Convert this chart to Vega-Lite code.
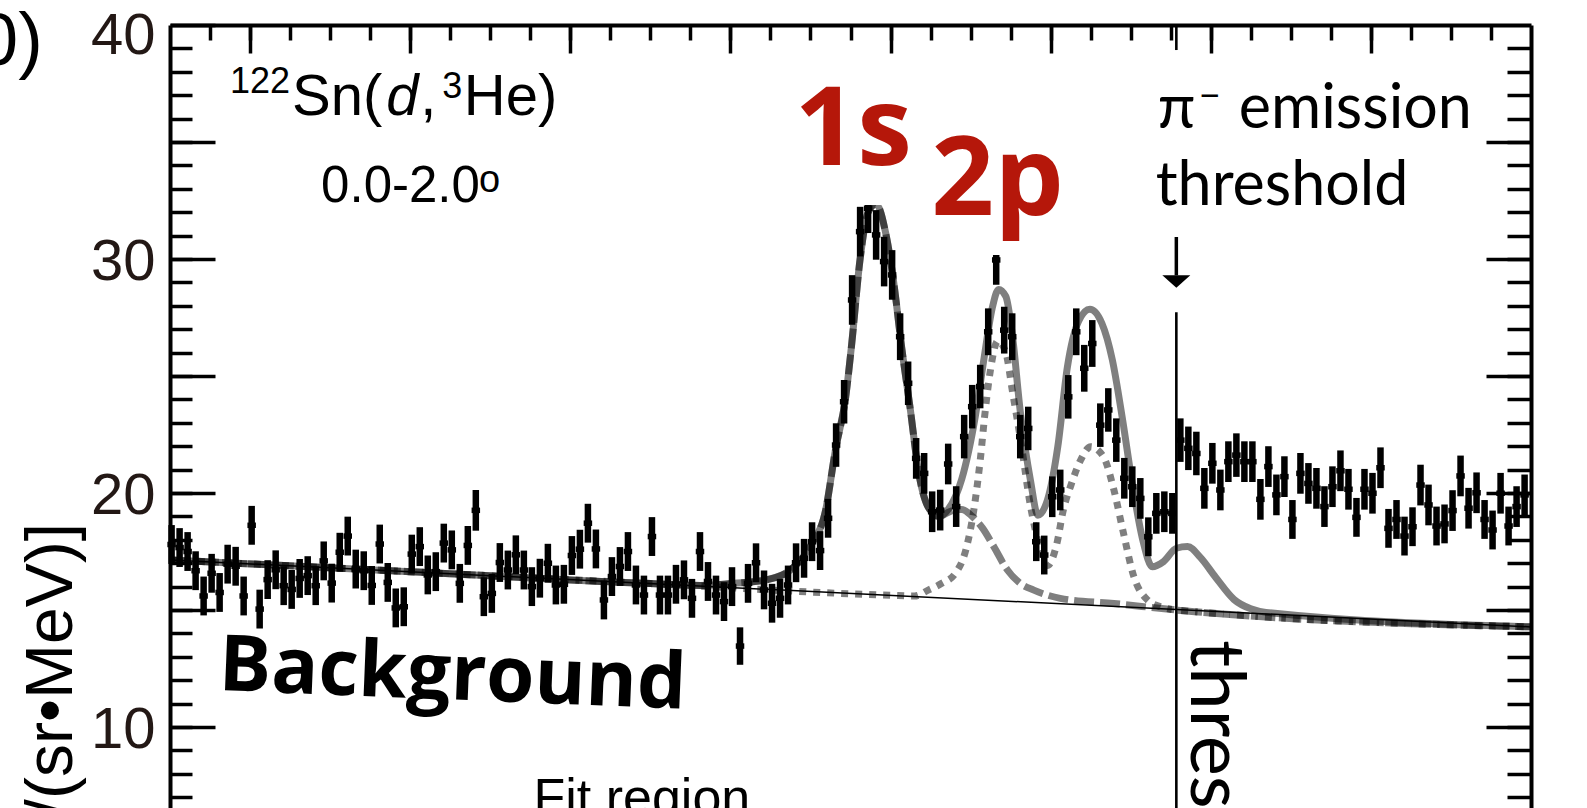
{
"$schema": "https://vega.github.io/schema/vega-lite/v6.json",
"width": 1361, "height": 783,
"autosize": {"type": "none"},
"padding": {"left": 170, "top": 25, "right": 56, "bottom": 0},
"background": "white",
"config": {"view": {"stroke": null}},
"datasets": {
"pts": [
{"x":-12.98,"y":17.8,"lo":16.97,"hi":18.63},{"x":-12.88,"y":17.67,"lo":16.84,"hi":18.5},{"x":-12.78,"y":17.5,"lo":16.67,"hi":18.33},{"x":-12.68,"y":16.68,"lo":15.85,"hi":17.51},{"x":-12.58,"y":15.6,"lo":14.77,"hi":16.43},{"x":-12.48,"y":16.57,"lo":15.74,"hi":17.4},{"x":-12.38,"y":15.75,"lo":14.92,"hi":16.58},{"x":-12.28,"y":16.96,"lo":16.13,"hi":17.79},{"x":-12.18,"y":16.87,"lo":16.04,"hi":17.7},{"x":-12.08,"y":15.6,"lo":14.77,"hi":16.43},
{"x":-11.98,"y":18.62,"lo":17.79,"hi":19.45},{"x":-11.88,"y":15.04,"lo":14.21,"hi":15.87},{"x":-11.78,"y":16.3,"lo":15.47,"hi":17.13},{"x":-11.68,"y":16.72,"lo":15.89,"hi":17.55},{"x":-11.58,"y":16.04,"lo":15.21,"hi":16.87},{"x":-11.48,"y":15.88,"lo":15.05,"hi":16.71},{"x":-11.38,"y":16.35,"lo":15.52,"hi":17.18},{"x":-11.28,"y":16.47,"lo":15.64,"hi":17.3},{"x":-11.18,"y":16.04,"lo":15.21,"hi":16.87},{"x":-11.08,"y":17.1,"lo":16.27,"hi":17.93},
{"x":-10.98,"y":16.15,"lo":15.32,"hi":16.98},{"x":-10.88,"y":17.47,"lo":16.64,"hi":18.3},{"x":-10.78,"y":18.16,"lo":17.33,"hi":18.99},{"x":-10.68,"y":16.75,"lo":15.92,"hi":17.58},{"x":-10.58,"y":16.68,"lo":15.85,"hi":17.51},{"x":-10.48,"y":16.05,"lo":15.22,"hi":16.88},{"x":-10.38,"y":17.82,"lo":16.99,"hi":18.65},{"x":-10.28,"y":16.18,"lo":15.35,"hi":17.01},{"x":-10.18,"y":15.09,"lo":14.26,"hi":15.92},{"x":-10.08,"y":15.14,"lo":14.31,"hi":15.97},
{"x":-9.98,"y":17.39,"lo":16.56,"hi":18.22},{"x":-9.88,"y":17.71,"lo":16.88,"hi":18.54},{"x":-9.78,"y":16.5,"lo":15.67,"hi":17.33},{"x":-9.68,"y":16.64,"lo":15.81,"hi":17.47},{"x":-9.58,"y":17.86,"lo":17.03,"hi":18.69},{"x":-9.48,"y":17.57,"lo":16.74,"hi":18.4},{"x":-9.38,"y":16.14,"lo":15.31,"hi":16.97},{"x":-9.28,"y":17.76,"lo":16.93,"hi":18.59},{"x":-9.18,"y":19.26,"lo":18.39,"hi":20.13},{"x":-9.08,"y":15.57,"lo":14.74,"hi":16.4},
{"x":-8.98,"y":15.71,"lo":14.88,"hi":16.54},{"x":-8.88,"y":17.03,"lo":16.2,"hi":17.86},{"x":-8.78,"y":16.71,"lo":15.88,"hi":17.54},{"x":-8.68,"y":17.36,"lo":16.53,"hi":18.19},{"x":-8.58,"y":16.71,"lo":15.88,"hi":17.54},{"x":-8.48,"y":16.0,"lo":15.17,"hi":16.83},{"x":-8.38,"y":16.36,"lo":15.53,"hi":17.19},{"x":-8.28,"y":17.0,"lo":16.17,"hi":17.83},{"x":-8.18,"y":16.07,"lo":15.24,"hi":16.9},{"x":-8.08,"y":16.1,"lo":15.27,"hi":16.93},
{"x":-7.98,"y":17.33,"lo":16.5,"hi":18.16},{"x":-7.88,"y":17.6,"lo":16.77,"hi":18.43},{"x":-7.78,"y":18.71,"lo":17.88,"hi":19.54},{"x":-7.68,"y":17.61,"lo":16.78,"hi":18.44},{"x":-7.58,"y":15.43,"lo":14.6,"hi":16.26},{"x":-7.48,"y":16.43,"lo":15.6,"hi":17.26},{"x":-7.38,"y":16.86,"lo":16.03,"hi":17.69},{"x":-7.28,"y":17.5,"lo":16.67,"hi":18.33},{"x":-7.18,"y":16.07,"lo":15.24,"hi":16.9},{"x":-7.08,"y":15.64,"lo":14.81,"hi":16.47},
{"x":-6.98,"y":18.14,"lo":17.31,"hi":18.97},{"x":-6.88,"y":15.64,"lo":14.81,"hi":16.47},{"x":-6.78,"y":15.64,"lo":14.81,"hi":16.47},{"x":-6.68,"y":16.1,"lo":15.27,"hi":16.93},{"x":-6.58,"y":16.29,"lo":15.46,"hi":17.12},{"x":-6.48,"y":15.5,"lo":14.67,"hi":16.33},{"x":-6.38,"y":17.5,"lo":16.67,"hi":18.33},{"x":-6.28,"y":16.22,"lo":15.39,"hi":17.05},{"x":-6.18,"y":15.64,"lo":14.81,"hi":16.47},{"x":-6.08,"y":15.36,"lo":14.53,"hi":16.19},
{"x":-5.98,"y":16.0,"lo":15.17,"hi":16.83},{"x":-5.88,"y":13.46,"lo":12.66,"hi":14.26},{"x":-5.78,"y":16.14,"lo":15.31,"hi":16.97},{"x":-5.68,"y":17.02,"lo":16.19,"hi":17.85},{"x":-5.58,"y":15.86,"lo":15.03,"hi":16.69},{"x":-5.48,"y":15.29,"lo":14.46,"hi":16.12},{"x":-5.38,"y":15.5,"lo":14.67,"hi":16.33},{"x":-5.28,"y":16.07,"lo":15.24,"hi":16.9},{"x":-5.18,"y":17.02,"lo":16.19,"hi":17.85},{"x":-5.08,"y":17.21,"lo":16.38,"hi":18.04},
{"x":-4.98,"y":17.92,"lo":17.09,"hi":18.75},{"x":-4.88,"y":17.54,"lo":16.71,"hi":18.37},{"x":-4.78,"y":18.92,"lo":18.09,"hi":19.75},{"x":-4.68,"y":22.05,"lo":21.12,"hi":22.98},{"x":-4.58,"y":23.9,"lo":22.97,"hi":24.83},{"x":-4.48,"y":28.25,"lo":27.19,"hi":29.31},{"x":-4.38,"y":31.17,"lo":30.11,"hi":32.23},{"x":-4.28,"y":32.17,"lo":31.11,"hi":33.23},{"x":-4.18,"y":31.03,"lo":29.97,"hi":32.09},{"x":-4.08,"y":29.89,"lo":28.83,"hi":30.95},
{"x":-3.98,"y":29.32,"lo":28.26,"hi":30.38},{"x":-3.88,"y":26.68,"lo":25.68,"hi":27.68},{"x":-3.78,"y":24.69,"lo":23.76,"hi":25.62},{"x":-3.68,"y":21.48,"lo":20.61,"hi":22.35},{"x":-3.58,"y":20.84,"lo":19.97,"hi":21.71},{"x":-3.48,"y":19.2,"lo":18.33,"hi":20.07},{"x":-3.38,"y":19.27,"lo":18.4,"hi":20.14},{"x":-3.28,"y":21.24,"lo":20.37,"hi":22.11},{"x":-3.18,"y":19.42,"lo":18.55,"hi":20.29},{"x":-3.08,"y":22.41,"lo":21.48,"hi":23.34},
{"x":-2.98,"y":23.69,"lo":22.76,"hi":24.62},{"x":-2.88,"y":24.55,"lo":23.62,"hi":25.48},{"x":-2.78,"y":26.89,"lo":25.89,"hi":27.89},{"x":-2.68,"y":29.96,"lo":28.9,"hi":31.02},{"x":-2.58,"y":26.96,"lo":25.96,"hi":27.96},{"x":-2.48,"y":26.68,"lo":25.68,"hi":27.68},{"x":-2.38,"y":22.41,"lo":21.48,"hi":23.34},{"x":-2.28,"y":22.76,"lo":21.83,"hi":23.69},{"x":-2.18,"y":17.92,"lo":17.09,"hi":18.75},{"x":-2.08,"y":17.35,"lo":16.52,"hi":18.18},
{"x":-1.98,"y":19.84,"lo":18.97,"hi":20.71},{"x":-1.88,"y":20.13,"lo":19.26,"hi":21.0},{"x":-1.78,"y":24.11,"lo":23.18,"hi":25.04},{"x":-1.68,"y":26.89,"lo":25.89,"hi":27.89},{"x":-1.58,"y":25.33,"lo":24.33,"hi":26.33},{"x":-1.48,"y":26.39,"lo":25.39,"hi":27.39},{"x":-1.38,"y":22.9,"lo":21.97,"hi":23.83},{"x":-1.28,"y":23.55,"lo":22.62,"hi":24.48},{"x":-1.18,"y":22.26,"lo":21.33,"hi":23.19},{"x":-1.08,"y":20.63,"lo":19.76,"hi":21.5},
{"x":-0.98,"y":20.27,"lo":19.4,"hi":21.14},{"x":-0.88,"y":19.77,"lo":18.9,"hi":20.64},{"x":-0.78,"y":18.13,"lo":17.3,"hi":18.96},{"x":-0.68,"y":19.13,"lo":18.26,"hi":20.0},{"x":-0.58,"y":19.2,"lo":18.33,"hi":20.07},{"x":-0.48,"y":19.13,"lo":18.26,"hi":20.0},{"x":-0.38,"y":22.26,"lo":21.33,"hi":23.19},{"x":-0.28,"y":21.91,"lo":20.98,"hi":22.84},{"x":-0.18,"y":21.69,"lo":20.76,"hi":22.62},{"x":-0.08,"y":20.2,"lo":19.33,"hi":21.07},
{"x":0.02,"y":21.27,"lo":20.4,"hi":22.14},{"x":0.12,"y":20.13,"lo":19.26,"hi":21.0},{"x":0.22,"y":21.34,"lo":20.47,"hi":22.21},{"x":0.32,"y":21.62,"lo":20.69,"hi":22.55},{"x":0.42,"y":21.34,"lo":20.47,"hi":22.21},{"x":0.52,"y":21.34,"lo":20.47,"hi":22.21},{"x":0.62,"y":19.73,"lo":18.86,"hi":20.6},{"x":0.72,"y":21.13,"lo":20.26,"hi":22.0},{"x":0.82,"y":19.92,"lo":19.05,"hi":20.79},{"x":0.92,"y":20.7,"lo":19.83,"hi":21.57},
{"x":1.02,"y":18.87,"lo":18.04,"hi":19.7},{"x":1.12,"y":20.84,"lo":19.97,"hi":21.71},{"x":1.22,"y":20.41,"lo":19.54,"hi":21.28},{"x":1.32,"y":20.2,"lo":19.33,"hi":21.07},{"x":1.42,"y":19.42,"lo":18.55,"hi":20.29},{"x":1.52,"y":20.27,"lo":19.4,"hi":21.14},{"x":1.62,"y":20.95,"lo":20.08,"hi":21.82},{"x":1.72,"y":20.16,"lo":19.29,"hi":21.03},{"x":1.82,"y":18.96,"lo":18.13,"hi":19.79},{"x":1.92,"y":20.16,"lo":19.29,"hi":21.03},
{"x":2.02,"y":19.99,"lo":19.12,"hi":20.86},{"x":2.12,"y":21.08,"lo":20.21,"hi":21.95},{"x":2.22,"y":18.49,"lo":17.66,"hi":19.32},{"x":2.32,"y":18.87,"lo":18.04,"hi":19.7},{"x":2.42,"y":18.16,"lo":17.33,"hi":18.99},{"x":2.52,"y":18.56,"lo":17.73,"hi":19.39},{"x":2.62,"y":20.34,"lo":19.47,"hi":21.21},{"x":2.72,"y":19.49,"lo":18.62,"hi":20.36},{"x":2.82,"y":18.59,"lo":17.76,"hi":19.42},{"x":2.92,"y":18.68,"lo":17.85,"hi":19.51},
{"x":3.02,"y":19.25,"lo":18.38,"hi":20.12},{"x":3.12,"y":20.73,"lo":19.86,"hi":21.6},{"x":3.22,"y":19.35,"lo":18.48,"hi":20.22},{"x":3.32,"y":20.01,"lo":19.14,"hi":20.88},{"x":3.42,"y":18.87,"lo":18.04,"hi":19.7},{"x":3.52,"y":18.42,"lo":17.59,"hi":19.25},{"x":3.62,"y":19.99,"lo":19.12,"hi":20.86},{"x":3.72,"y":18.59,"lo":17.76,"hi":19.42},{"x":3.82,"y":19.42,"lo":18.55,"hi":20.29},{"x":3.92,"y":19.92,"lo":19.05,"hi":20.79}
],
"bg": [{"x":-13,"y":17.14},{"x":4,"y":14.28}],
"total": [
{"x":-13,"y":17.14},{"x":-10,"y":16.64},{"x":-7,"y":16.13},{"x":-6.375,"y":16.05},{"x":-5.96,"y":16.14},{"x":-5.54,"y":16.3},{"x":-5.25,"y":16.71},{"x":-4.99,"y":17.8},{"x":-4.81,"y":19.28},{"x":-4.69,"y":21.8},{"x":-4.56,"y":24.1},{"x":-4.49,"y":26.2},{"x":-4.38,"y":30.0},{"x":-4.28,"y":32.0},{"x":-4.18,"y":32.35},{"x":-4.06,"y":31.1},{"x":-3.96,"y":29.0},{"x":-3.86,"y":26.2},{"x":-3.75,"y":23.5},{"x":-3.65,"y":20.9},{"x":-3.53,"y":19.4},{"x":-3.4,"y":19.0},{"x":-3.28,"y":19.3},{"x":-3.11,"y":20.6},{"x":-2.94,"y":23.3},{"x":-2.83,"y":25.8},{"x":-2.73,"y":27.9},{"x":-2.65,"y":28.7},{"x":-2.56,"y":28.4},{"x":-2.48,"y":26.8},{"x":-2.38,"y":23.5},{"x":-2.25,"y":20.5},{"x":-2.16,"y":19.05},{"x":-2.04,"y":19.7},{"x":-1.91,"y":22.0},{"x":-1.79,"y":25.4},{"x":-1.65,"y":27.35},{"x":-1.51,"y":27.85},{"x":-1.36,"y":27.25},{"x":-1.23,"y":25.7},{"x":-1.1,"y":23.1},{"x":-0.98,"y":20.4},{"x":-0.85,"y":18.0},{"x":-0.73,"y":16.85},{"x":-0.59,"y":17.07},{"x":-0.43,"y":17.64},{"x":-0.29,"y":17.71},{"x":-0.13,"y":17.25},{"x":0.06,"y":16.4},{"x":0.29,"y":15.45},{"x":0.5,"y":15.05},{"x":0.69,"y":14.9},{"x":4.0,"y":14.28}
],
"dash1s": [
{"x":-13,"y":17.14},{"x":-10,"y":16.64},{"x":-7,"y":16.13},{"x":-6.375,"y":16.05},{"x":-5.96,"y":16.14},{"x":-5.54,"y":16.3},{"x":-5.25,"y":16.71},{"x":-4.99,"y":17.8},{"x":-4.81,"y":19.28},{"x":-4.69,"y":21.8},{"x":-4.56,"y":24.1},{"x":-4.49,"y":26.2},{"x":-4.38,"y":30.0},{"x":-4.28,"y":32.0},{"x":-4.18,"y":32.35},{"x":-4.06,"y":31.1},{"x":-3.96,"y":29.0},{"x":-3.86,"y":26.2},{"x":-3.75,"y":23.5},{"x":-3.65,"y":20.9},{"x":-3.53,"y":19.4},{"x":-3.4,"y":19.0},{"x":-3.25,"y":19.22},{"x":-3.11,"y":19.3},{"x":-2.98,"y":19.0},{"x":-2.85,"y":18.5},{"x":-2.71,"y":17.71},{"x":-2.54,"y":16.71},{"x":-2.38,"y":16.14},{"x":-2.21,"y":15.85},{"x":-1.88,"y":15.5},{"x":-1.21,"y":15.28},{"x":-0.43,"y":15.0},{"x":4.0,"y":14.28}
],
"dot2p": [
{"x":-13,"y":17.14},{"x":-7,"y":16.13},{"x":-4.0,"y":15.63},{"x":-3.7,"y":15.6},{"x":-3.53,"y":15.85},{"x":-3.36,"y":16.14},{"x":-3.19,"y":16.57},{"x":-3.06,"y":17.56},{"x":-2.96,"y":19.27},{"x":-2.875,"y":21.55},{"x":-2.825,"y":23.26},{"x":-2.75,"y":25.3},{"x":-2.66,"y":26.5},{"x":-2.56,"y":26.0},{"x":-2.475,"y":24.3},{"x":-2.375,"y":22.26},{"x":-2.25,"y":19.41},{"x":-2.125,"y":17.56},{"x":-2.04,"y":16.9},{"x":-1.925,"y":17.8},{"x":-1.84,"y":19.3},{"x":-1.75,"y":20.3},{"x":-1.625,"y":21.41},{"x":-1.5,"y":21.98},{"x":-1.34,"y":21.55},{"x":-1.21,"y":20.13},{"x":-1.09,"y":18.28},{"x":-0.96,"y":16.42},{"x":-0.79,"y":15.43},{"x":-0.625,"y":15.14},{"x":-0.43,"y":15.0},{"x":4.0,"y":14.28}
],
"threshold_line": [{"x":-0.43,"y":27.73,"y2":6.54},{"x":-0.43,"y":40,"y2":38.93}],
"arrow_stem": [{"x":-0.43,"y":30.94,"y2":29.3}],
"arrow_head": [{"x":-0.43,"y":29.04}],
"label_boxes": [{"x":-5.19,"x2":-3.69,"y":38.5,"y2":32.31},{"x":-3.69,"x2":-1.81,"y":35.94,"y2":30.17}],
"notes": [
{"x":-5.2,"y":34.02,"text":"1s"},
{"x":-3.49,"y":31.88,"text":"2p"},
{"x":-12.4,"y":11.58,"text":"Background"},
{"x":-8.46,"y":6.24,"text":"Fit region"},
{"x":-0.25,"y":13.72,"text":"threshold"},
{"x":-0.6625,"y":35.6,"text":"π"},
{"x":-0.15,"y":36.41,"text":"−"},
{"x":0.35,"y":35.6,"text":"emission"},
{"x":-0.6875,"y":32.31,"text":"threshold"},
{"x":-12.25,"y":37.09,"text":"122"},
{"x":-11.475,"y":36.15,"text":"Sn("},
{"x":-10.3,"y":36.15,"text":"d"},
{"x":-9.875,"y":36.15,"text":","},
{"x":-9.6,"y":36.9,"text":"3"},
{"x":-9.33,"y":36.15,"text":"He)"},
{"x":-11.1125,"y":32.44,"text":"0.0-2.0"},
{"x":-9.14,"y":32.85,"text":"o"},
{"x":-14.5875,"y":38.29,"text":"0)"},
{"x":-14.225,"y":18.72,"text":"d²σ/dΩdE [μb/(sr•MeV)]"}
]
},
"encoding": {
"x": {"field":"x","type":"quantitative","scale":{"domain":[-13,4],"nice":false,"zero":false},"axis":null},
"y": {"field":"y","type":"quantitative","scale":{"domain":[6.54,40],"nice":false,"zero":false},"axis":null}
},
"layer": [
{"data":{"name":"bg"},"mark":{"type":"line","color":"black","strokeWidth":1.5,"clip":true}},
{"data":{"name":"dot2p"},"mark":{"type":"line","color":"black","opacity":0.5,"strokeWidth":7,"strokeDash":[7,7],"interpolate":"monotone","clip":true}},
{"data":{"name":"dash1s"},"mark":{"type":"line","color":"black","opacity":0.5,"strokeWidth":7,"strokeDash":[20,6],"interpolate":"monotone","clip":true}},
{"data":{"name":"total"},"mark":{"type":"line","color":"black","opacity":0.5,"strokeWidth":7,"interpolate":"monotone","clip":true}},
{"data":{"name":"threshold_line"},"mark":{"type":"rule","color":"black","strokeWidth":2.6,"clip":true},"encoding":{"y2":{"field":"y2"}}},
{"data":{"name":"arrow_stem"},"mark":{"type":"rule","color":"black","strokeWidth":3.5},"encoding":{"y2":{"field":"y2"}}},
{"data":{"name":"arrow_head"},"mark":{"type":"point","shape":"M-1,-0.45L1,-0.45L0,0.45Z","filled":true,"size":784,"color":"black","opacity":1}},
{"data":{"name":"pts"},"mark":{"type":"rule","color":"black","strokeWidth":6.5,"strokeCap":"butt"},
 "encoding":{"y":{"field":"lo","type":"quantitative","scale":{"domain":[6.54,40],"nice":false,"zero":false},"axis":null},"y2":{"field":"hi"}}},
{"data":{"name":"pts"},"mark":{"type":"point","shape":"M-1,-0.65L1,-0.65L1,0.65L-1,0.65Z","filled":true,"size":72,"color":"black","opacity":1}},
{"data":{"name":"label_boxes"},"mark":{"type":"rect","fill":"white","stroke":null},"encoding":{"x2":{"field":"x2"},"y2":{"field":"y2"}}},
{"data":{"name":"notes"},"transform":[{"filter":"datum.text === '1s' || datum.text === '2p'"}],
 "mark":{"type":"text","font":"Open Sans","fontWeight":"bold","fontSize":110,"color":"#b5170a","align":"left","baseline":"alphabetic"},"encoding":{"text":{"field":"text"}}},
{"data":{"name":"notes"},"transform":[{"filter":"datum.text === 'Background'"}],
 "mark":{"type":"text","font":"Open Sans","fontWeight":"bold","fontSize":78,"color":"black","align":"left","baseline":"alphabetic","angle":2.3},"encoding":{"text":{"field":"text"}}},
{"data":{"name":"notes"},"transform":[{"filter":"datum.text === 'Fit region'"}],
 "mark":{"type":"text","font":"Liberation Sans","fontSize":52,"color":"black","align":"left","baseline":"alphabetic"},"encoding":{"text":{"field":"text"}}},
{"data":{"name":"notes"},"transform":[{"filter":"datum.text === 'threshold' && datum.y < 20"}],
 "mark":{"type":"text","font":"Lato","fontSize":76,"color":"black","align":"left","baseline":"alphabetic","angle":90},"encoding":{"text":{"field":"text"}}},
{"data":{"name":"notes"},"transform":[{"filter":"datum.text === 'π' || datum.text === 'emission' || (datum.text === 'threshold' && datum.y > 20)"}],
 "mark":{"type":"text","font":"Lato, DejaVu Sans","fontSize":61,"color":"black","align":"left","baseline":"alphabetic"},"encoding":{"text":{"field":"text"}}},
{"data":{"name":"notes"},"transform":[{"filter":"datum.text === '−'"}],
 "mark":{"type":"text","font":"Lato, DejaVu Sans","fontSize":38,"color":"black","align":"left","baseline":"alphabetic"},"encoding":{"text":{"field":"text"}}},
{"data":{"name":"notes"},"transform":[{"filter":"datum.text === 'Sn(' || datum.text === ',' || datum.text === 'He)'"}],
 "mark":{"type":"text","font":"Liberation Sans","fontSize":58,"color":"black","align":"left","baseline":"alphabetic"},"encoding":{"text":{"field":"text"}}},
{"data":{"name":"notes"},"transform":[{"filter":"datum.text === 'd'"}],
 "mark":{"type":"text","font":"Liberation Sans","fontStyle":"italic","fontSize":58,"color":"black","align":"left","baseline":"alphabetic"},"encoding":{"text":{"field":"text"}}},
{"data":{"name":"notes"},"transform":[{"filter":"datum.text === '122' || datum.text === '3'"}],
 "mark":{"type":"text","font":"Liberation Sans","fontSize":36,"color":"black","align":"left","baseline":"alphabetic"},"encoding":{"text":{"field":"text"}}},
{"data":{"name":"notes"},"transform":[{"filter":"datum.text === '0.0-2.0'"}],
 "mark":{"type":"text","font":"Liberation Sans","fontSize":51,"color":"black","align":"left","baseline":"alphabetic"},"encoding":{"text":{"field":"text"}}},
{"data":{"name":"notes"},"transform":[{"filter":"datum.text === 'o'"}],
 "mark":{"type":"text","font":"Liberation Sans","fontSize":38,"color":"black","align":"left","baseline":"alphabetic"},"encoding":{"text":{"field":"text"}}},
{"data":{"name":"notes"},"transform":[{"filter":"datum.text === '0)'"}],
 "mark":{"type":"text","font":"Liberation Sans","fontSize":74,"color":"black","align":"right","baseline":"alphabetic"},"encoding":{"text":{"field":"text"}}},
{"data":{"name":"notes"},"transform":[{"filter":"indexof(datum.text, 'MeV') >= 0"}],
 "mark":{"type":"text","font":"Liberation Sans","fontSize":66,"color":"black","align":"right","baseline":"alphabetic","angle":-90},"encoding":{"text":{"field":"text"}}},
{"data":{"name":"bg"},"mark":{"type":"point","opacity":0},
 "encoding":{
  "x":{"field":"x","type":"quantitative","scale":{"domain":[-13,4],"nice":false,"zero":false},
   "axis":{"orient":"top","values":[-12.5,-12,-11.5,-11,-10.5,-10,-9.5,-9,-8.5,-8,-7.5,-7,-6.5,-6,-5.5,-5,-4.5,-4,-3.5,-3,-2.5,-2,-1.5,-1,-0.5,0,0.5,1,1.5,2,2.5,3,3.5],"tickSize":-15,"tickWidth":3.5,"tickColor":"black","labels":false,"domain":true,"domainWidth":4,"domainColor":"black","grid":false,"title":null,"zindex":1}},
  "y":{"field":"y","type":"quantitative","scale":{"domain":[6.54,40],"nice":false,"zero":false},
   "axis":{"orient":"left","values":[7,8,9,10,11,12,13,14,15,16,17,18,19,20,21,22,23,24,25,26,27,28,29,30,31,32,33,34,35,36,37,38,39],"tickSize":-22,"tickWidth":3.5,"tickColor":"black","labels":false,"domain":true,"domainWidth":4,"domainColor":"black","grid":false,"title":null,"zindex":1}}}},
{"data":{"name":"bg"},"mark":{"type":"point","opacity":0},
 "encoding":{
  "x":{"field":"x","type":"quantitative","scale":{"domain":[-13,4],"nice":false,"zero":false},
   "axis":{"orient":"top","values":[-12,-10,-8,-6,-4,-2,0,2],"tickSize":-28,"tickWidth":3.5,"tickColor":"black","labels":false,"domain":false,"grid":false,"title":null,"zindex":1}},
  "y":{"field":"y","type":"quantitative","scale":{"domain":[6.54,40],"nice":false,"zero":false},
   "axis":{"orient":"left","values":[10,15,20,25,30,35,40],"tickSize":-45,"tickWidth":3.5,"tickColor":"black","domain":false,"grid":false,"title":null,"zindex":1,
    "labelExpr":"datum.value % 10 === 0 ? datum.label : ''","labelFont":"Liberation Sans","labelFontSize":58,"labelColor":"#231815","labelPadding":60,"labelFlush":false,"labelOverlap":false,"labelAlign":"right","labelBaseline":"middle",
    "labelOffset":{"condition":{"test":"datum.value === 40","value":11},"value":3}}}}},
{"data":{"name":"bg"},"mark":{"type":"point","opacity":0},
 "encoding":{
  "x":{"field":"x","type":"quantitative","scale":{"domain":[-13,4],"nice":false,"zero":false},"axis":null},
  "y":{"field":"y","type":"quantitative","scale":{"domain":[6.54,40],"nice":false,"zero":false},
   "axis":{"orient":"right","values":[7,8,9,10,11,12,13,14,15,16,17,18,19,20,21,22,23,24,25,26,27,28,29,30,31,32,33,34,35,36,37,38,39],"tickSize":-24,"tickWidth":3.5,"tickColor":"black","labels":false,"domain":true,"domainWidth":4,"domainColor":"black","grid":false,"title":null,"zindex":1}}}},
{"data":{"name":"bg"},"mark":{"type":"point","opacity":0},
 "encoding":{
  "x":{"field":"x","type":"quantitative","scale":{"domain":[-13,4],"nice":false,"zero":false},"axis":null},
  "y":{"field":"y","type":"quantitative","scale":{"domain":[6.54,40],"nice":false,"zero":false},
   "axis":{"orient":"right","values":[10,15,20,25,30,35],"tickSize":-45,"tickWidth":3.5,"tickColor":"black","labels":false,"domain":false,"grid":false,"title":null,"zindex":1}}}}
],
"resolve": {"axis": {"x":"independent","y":"independent"}}
}
